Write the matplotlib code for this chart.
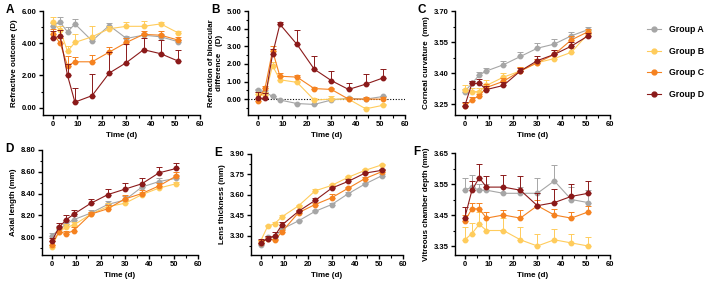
import numpy as np
import matplotlib
matplotlib.use('Agg')
import matplotlib.pyplot as plt
from matplotlib.ticker import MultipleLocator, AutoMinorLocator
from matplotlib.lines import Line2D

plt.rcParams['font.family'] = ['Liberation Sans', 'DejaVu Sans']
plt.rcParams['font.weight'] = 'bold'

days = [0, 3, 6, 9, 16, 23, 30, 37, 44, 51]
groups = ['Group A', 'Group B', 'Group C', 'Group D']
colors = ['#a6a6a6', '#ffcc5c', '#f58220', '#8b1a1a']

# A: refractive outcome (D)
refr_mean = [
    [5.10, 5.30, 4.70, 5.20, 4.15, 5.10, 4.30, 4.50, 4.40, 4.10],
    [5.30, 4.80, 3.50, 4.05, 4.40, 4.90, 5.05, 5.05, 5.20, 4.65],
    [4.60, 4.00, 2.60, 2.85, 2.85, 3.45, 4.05, 4.55, 4.50, 4.20],
    [4.30, 4.45, 2.00, 0.35, 0.75, 2.15, 2.80, 3.60, 3.35, 2.90],
]
refr_err = [
    [0.15, 0.35, 0.30, 0.30, 0.10, 0.15, 0.15, 0.15, 0.15, 0.10],
    [0.35, 0.30, 0.30, 0.50, 0.65, 0.15, 0.25, 0.30, 0.10, 0.10],
    [0.30, 0.30, 0.60, 0.30, 0.45, 0.30, 0.30, 0.20, 0.25, 0.20],
    [0.45, 0.40, 0.70, 0.85, 1.35, 1.30, 1.15, 0.75, 0.85, 0.70],
]

# B: binocular refraction difference (D)
diff_mean = [
    [0.50, 0.40, 0.15, -0.05, -0.25, -0.30, -0.05, 0.05, 0.00, 0.15],
    [0.30, 0.25, 1.90, 1.10, 0.95, -0.05, 0.00, 0.00, -0.55, -0.35],
    [-0.10, 0.65, 2.75, 1.30, 1.25, 0.60, 0.55, 0.00, 0.00, 0.00],
    [0.05, 0.05, 2.55, 4.25, 3.10, 1.70, 1.05, 0.55, 0.85, 1.20],
]
diff_err = [
    [0.10, 0.10, 0.05, 0.05, 0.05, 0.05, 0.10, 0.05, 0.05, 0.05],
    [0.10, 0.15, 0.20, 0.15, 0.10, 0.10, 0.15, 0.10, 0.10, 0.10],
    [0.10, 0.10, 0.25, 0.20, 0.10, 0.10, 0.10, 0.10, 0.10, 0.10],
    [0.35, 0.30, 0.30, 0.15, 0.80, 0.75, 0.55, 0.35, 0.55, 0.50],
]

# C: corneal curvature (mm)
corn_mean = [
    [3.31, 3.35, 3.39, 3.41, 3.44, 3.48, 3.52, 3.54, 3.58, 3.61],
    [3.32, 3.31, 3.31, 3.34, 3.38, 3.41, 3.45, 3.47, 3.50, 3.59],
    [3.24, 3.27, 3.29, 3.33, 3.36, 3.41, 3.45, 3.49, 3.56, 3.60],
    [3.24, 3.35, 3.35, 3.32, 3.34, 3.41, 3.46, 3.49, 3.53, 3.58],
]
corn_err = [
    [0.015, 0.01, 0.015, 0.015, 0.02, 0.02, 0.025, 0.025, 0.02, 0.015],
    [0.02, 0.02, 0.02, 0.025, 0.02, 0.02, 0.02, 0.02, 0.02, 0.02],
    [0.015, 0.015, 0.01, 0.015, 0.015, 0.02, 0.02, 0.02, 0.02, 0.015],
    [0.02, 0.01, 0.02, 0.015, 0.015, 0.015, 0.02, 0.02, 0.02, 0.015],
]

# D: axial length (mm)
axl_mean = [
    [8.01, 8.07, 8.12, 8.16, 8.22, 8.30, 8.34, 8.46, 8.51, 8.54],
    [7.91, 8.05, 8.09, 8.11, 8.21, 8.28, 8.31, 8.39, 8.45, 8.49],
    [7.93, 8.05, 8.03, 8.06, 8.21, 8.26, 8.35, 8.40, 8.47, 8.56],
    [7.96, 8.09, 8.16, 8.21, 8.31, 8.39, 8.44, 8.49, 8.59, 8.63],
]
axl_err = [
    [0.03, 0.03, 0.03, 0.03, 0.03, 0.03, 0.04, 0.03, 0.03, 0.03],
    [0.02, 0.03, 0.03, 0.03, 0.02, 0.03, 0.03, 0.02, 0.02, 0.02],
    [0.03, 0.03, 0.03, 0.03, 0.02, 0.03, 0.04, 0.03, 0.03, 0.04],
    [0.03, 0.04, 0.04, 0.04, 0.04, 0.05, 0.06, 0.05, 0.05, 0.05],
]

# E: lens thickness (mm)
lens_mean = [
    [3.23, 3.29, 3.29, 3.35, 3.41, 3.48, 3.53, 3.61, 3.68, 3.74],
    [3.26, 3.37, 3.39, 3.44, 3.52, 3.63, 3.67, 3.73, 3.78, 3.82],
    [3.25, 3.28, 3.27, 3.33, 3.47, 3.53, 3.58, 3.65, 3.72, 3.77],
    [3.25, 3.28, 3.30, 3.38, 3.48, 3.56, 3.65, 3.70, 3.76, 3.78],
]
lens_err = [
    [0.01, 0.01, 0.01, 0.01, 0.01, 0.01, 0.01, 0.01, 0.01, 0.01],
    [0.01, 0.01, 0.01, 0.01, 0.01, 0.01, 0.01, 0.01, 0.01, 0.01],
    [0.02, 0.01, 0.01, 0.01, 0.01, 0.01, 0.03, 0.01, 0.01, 0.01],
    [0.03, 0.02, 0.03, 0.02, 0.01, 0.02, 0.01, 0.02, 0.01, 0.01],
]

# F: vitreous chamber depth (mm)
vit_mean = [
    [3.53, 3.54, 3.53, 3.53, 3.52, 3.52, 3.52, 3.56, 3.50, 3.49],
    [3.37, 3.39, 3.42, 3.40, 3.40, 3.37, 3.35, 3.37, 3.36, 3.35],
    [3.43, 3.47, 3.47, 3.44, 3.45, 3.44, 3.48, 3.45, 3.44, 3.46],
    [3.44, 3.53, 3.57, 3.54, 3.54, 3.53, 3.48, 3.49, 3.51, 3.52],
]
vit_err = [
    [0.04, 0.04, 0.02, 0.02, 0.02, 0.02, 0.05, 0.05, 0.04, 0.04],
    [0.04, 0.035, 0.04, 0.04, 0.04, 0.04, 0.04, 0.035, 0.03, 0.03],
    [0.02, 0.02, 0.02, 0.02, 0.015, 0.025, 0.02, 0.02, 0.02, 0.02],
    [0.035, 0.03, 0.045, 0.035, 0.04, 0.045, 0.04, 0.045, 0.04, 0.04],
]

panels = [
    ('A', 'Refractive outcome (D)', refr_mean, refr_err, (-0.45, 6.0), [0, 2, 4, 6], [43, 200, 11, 115]),
    ('B', 'Refraction of binocular\ndifference   (D)', diff_mean, diff_err, (-0.9, 5.0), [0, 1, 2, 3, 4, 5], [248, 405, 11, 115]),
    ('C', 'Corneal curvature  (mm)', corn_mean, corn_err, (3.197, 3.70), [3.25, 3.40, 3.55, 3.70], [455, 610, 11, 115]),
    ('D', 'Axial length (mm)', axl_mean, axl_err, (7.835, 8.80), [8.0, 8.2, 8.4, 8.6, 8.8], [42, 198, 150, 255]),
    ('E', 'Lens thickness (mm)', lens_mean, lens_err, (3.16, 3.90), [3.30, 3.45, 3.60, 3.75, 3.90], [251, 403, 154, 255]),
    ('F', 'Vitreous chamber depth (mm)', vit_mean, vit_err, (3.321, 3.65), [3.35, 3.45, 3.55, 3.65], [455, 610, 153, 255]),
]

W, H = 705, 284
fig = plt.figure(figsize=(W / 100, H / 100), dpi=100)

for letter, ylabel, means, errs, ylim, yticks, box in panels:
    l, r, t, b = box
    ax = fig.add_axes([l / W, 1 - b / H, (r - l) / W, (b - t) / H])
    for k in range(4):
        m = np.array(means[k])
        e = np.array(errs[k])
        ax.errorbar(days, m, yerr=[np.zeros_like(e), e], color=colors[k],
                    marker='o', ms=3.2, lw=0.8, elinewidth=0.7, capsize=2.2,
                    capthick=0.7, zorder=2 + k)
    if letter == 'B':
        ax.axhline(0, color='black', lw=0.8, ls=(0, (1, 1.5)), zorder=1)
    ax.set_xlim(-4, 60)
    ax.set_ylim(*ylim)
    ax.set_xticks([0, 10, 20, 30, 40, 50, 60])
    ax.xaxis.set_minor_locator(MultipleLocator(5))
    ax.set_yticks(yticks)
    ax.yaxis.set_minor_locator(AutoMinorLocator(2))
    ax.set_yticklabels(['%.2f' % v for v in yticks])
    for s in ['top', 'right']:
        ax.spines[s].set_visible(False)
    for s in ['left', 'bottom']:
        ax.spines[s].set_linewidth(1.0)
    ax.tick_params(which='major', direction='out', length=3, width=1.0,
                   labelsize=5.5, pad=1.5)
    ax.tick_params(which='minor', direction='out', length=1.8, width=0.8)
    ax.set_xlabel('Time (d)', fontsize=5.8, fontweight='bold', labelpad=3)
    ax.set_ylabel(ylabel, fontsize=5.8, fontweight='bold', labelpad=3)
    dx = 42 if letter == 'F' else 37
    fig.text((l - dx) / W, 1 - (t - 1) / H, letter, fontsize=8.5,
             fontweight='bold', ha='left', va='center')

handles = [Line2D([0], [0], color=c, marker='o', ms=3.5, lw=0.8) for c in colors]
fig.legend(handles, groups, loc='upper left', bbox_to_anchor=(647 / W, 1 - 25 / H),
           frameon=False, handlelength=1.6, handletextpad=0.9, labelspacing=1.45,
           borderaxespad=0, borderpad=0,
           prop={'weight': 'bold', 'size': 6.3})

fig.savefig('out.png', dpi=100)
